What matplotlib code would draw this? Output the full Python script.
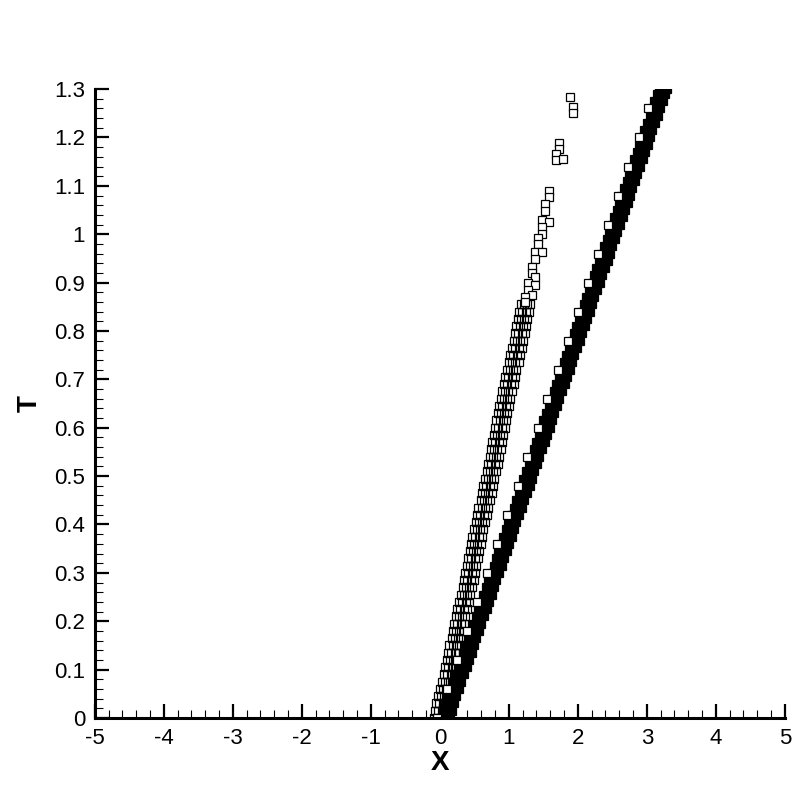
import numpy as np
import matplotlib as mpl
import matplotlib.pyplot as plt
from matplotlib.ticker import MultipleLocator

mpl.rcParams['font.family'] = ['Liberation Sans', 'DejaVu Sans']
mpl.rcParams['axes.unicode_minus'] = False

# right band: time rows and band centre x
right_t = [0.000, 0.015, 0.030, 0.045, 0.060, 0.075, 0.090, 0.105, 0.120, 0.135,
           0.150, 0.165, 0.180, 0.195, 0.210, 0.225, 0.240, 0.255, 0.270, 0.285,
           0.300, 0.315, 0.330, 0.345, 0.360, 0.375, 0.390, 0.405, 0.420, 0.435,
           0.450, 0.465, 0.480, 0.495, 0.510, 0.525, 0.540, 0.555, 0.570, 0.585,
           0.600, 0.615, 0.630, 0.645, 0.660, 0.675, 0.690, 0.705, 0.720, 0.735,
           0.750, 0.765, 0.780, 0.795, 0.810, 0.825, 0.840, 0.855, 0.870, 0.885,
           0.900, 0.915, 0.930, 0.945, 0.960, 0.975, 0.990, 1.005, 1.020, 1.035,
           1.050, 1.065, 1.080, 1.095, 1.110, 1.125, 1.140, 1.155, 1.170, 1.185,
           1.200, 1.215, 1.230, 1.245, 1.260, 1.275, 1.290, 1.300]
right_x = [0.07, 0.11, 0.14, 0.18, 0.22, 0.25, 0.29, 0.33, 0.36, 0.40,
           0.43, 0.47, 0.51, 0.54, 0.58, 0.62, 0.65, 0.69, 0.73, 0.76,
           0.80, 0.84, 0.87, 0.91, 0.94, 0.98, 1.02, 1.05, 1.09, 1.13,
           1.16, 1.20, 1.24, 1.27, 1.31, 1.35, 1.38, 1.42, 1.46, 1.49,
           1.53, 1.56, 1.60, 1.64, 1.67, 1.71, 1.75, 1.78, 1.82, 1.86,
           1.89, 1.93, 1.97, 2.00, 2.04, 2.07, 2.11, 2.15, 2.18, 2.22,
           2.26, 2.29, 2.33, 2.37, 2.40, 2.44, 2.48, 2.51, 2.55, 2.59,
           2.62, 2.66, 2.69, 2.73, 2.77, 2.80, 2.84, 2.88, 2.91, 2.95,
           2.99, 3.02, 3.06, 3.10, 3.13, 3.17, 3.20, 3.23]

# left cloud (dense part): time rows and cloud centre x
left_t = [0.000, 0.015, 0.030, 0.045, 0.060, 0.075, 0.090, 0.105, 0.120, 0.135,
          0.150, 0.165, 0.180, 0.195, 0.210, 0.225, 0.240, 0.255, 0.270, 0.285,
          0.300, 0.315, 0.330, 0.345, 0.360, 0.375, 0.390, 0.405, 0.420, 0.435,
          0.450, 0.465, 0.480, 0.495, 0.510, 0.525, 0.540, 0.555, 0.570, 0.585,
          0.600, 0.615, 0.630, 0.645, 0.660, 0.675, 0.690, 0.705, 0.720, 0.735,
          0.750, 0.765, 0.780, 0.795, 0.810, 0.825, 0.840, 0.855]
left_x = [-0.01, 0.00, 0.02, 0.04, 0.07, 0.10, 0.13, 0.15, 0.17, 0.19,
          0.21, 0.24, 0.26, 0.28, 0.30, 0.32, 0.35, 0.37, 0.40, 0.42,
          0.44, 0.46, 0.48, 0.50, 0.52, 0.54, 0.56, 0.59, 0.61, 0.63,
          0.66, 0.68, 0.70, 0.72, 0.75, 0.77, 0.79, 0.81, 0.83, 0.85,
          0.87, 0.89, 0.91, 0.93, 0.95, 0.97, 1.00, 1.02, 1.04, 1.07,
          1.09, 1.12, 1.14, 1.16, 1.18, 1.20, 1.22, 1.24]

# left cloud (sparse upper part), single points
top_t = [1.283, 1.262, 1.250, 1.188, 1.176, 1.165, 1.153, 1.155, 1.089, 1.076,
         1.062, 1.048, 1.029, 1.025, 1.014, 1.001, 0.992, 0.980, 0.963, 0.963,
         0.948, 0.932, 0.920, 0.911, 0.899, 0.895, 0.884, 0.874, 0.870, 0.860]
top_x = [1.88, 1.93, 1.93, 1.72, 1.72, 1.68, 1.68, 1.78, 1.58, 1.58,
         1.52, 1.52, 1.48, 1.58, 1.48, 1.48, 1.42, 1.42, 1.38, 1.48,
         1.38, 1.33, 1.33, 1.38, 1.28, 1.38, 1.28, 1.33, 1.23, 1.23]

right_t = np.array(right_t)
right_x = np.array(right_x)
left_t = np.array(left_t)
left_x = np.array(left_x)

fig = plt.figure(figsize=(8.1, 8.1), dpi=100, facecolor='w')
ax = fig.add_axes([0.117, 0.1136, 0.852, 0.7764])

ms = 6
hollow = dict(ls='none', marker='s', ms=ms, mfc='white', mec='black', mew=0.9)
hollow_clear = dict(ls='none', marker='s', ms=ms, mfc='none', mec='black', mew=0.9)
filled = dict(ls='none', marker='s', ms=ms, mfc='black', mec='black', mew=0.9)

# left cloud: hollow squares, a few per row
for off in (-0.07, -0.025, 0.025, 0.07):
    ax.plot(left_x + off, left_t, **hollow_clear)
ax.plot(top_x, top_t, **hollow)

# right band: overlapping squares, solid black
for off in (-0.06, 0.0, 0.06):
    ax.plot(right_x + off, right_t, **filled)
ax.plot(right_x[::4] - 0.11, right_t[::4], **hollow)

ax.set_xlim(-5, 5)
ax.set_ylim(0, 1.3)
ax.spines['top'].set_visible(False)
ax.spines['right'].set_visible(False)
ax.spines['left'].set_linewidth(2.2)
ax.spines['bottom'].set_linewidth(2.2)
ax.spines['left'].set_capstyle('projecting')
ax.spines['bottom'].set_capstyle('projecting')

ax.xaxis.set_major_locator(MultipleLocator(1))
ax.xaxis.set_minor_locator(MultipleLocator(0.2))
ax.yaxis.set_minor_locator(MultipleLocator(0.02))
ax.set_yticks(np.round(np.arange(0, 1.31, 0.1), 1))
ax.set_yticklabels(['0', '0.1', '0.2', '0.3', '0.4', '0.5', '0.6', '0.7',
                    '0.8', '0.9', '1', '1.1', '1.2', '1.3'])

ax.tick_params(which='major', direction='in', length=10, width=1.6,
               labelsize=16, pad=7)
ax.tick_params(which='minor', direction='in', length=5.5, width=0.8)
ax.tick_params(axis='x', which='both', top=False)
ax.tick_params(axis='y', which='both', right=False)
ax.tick_params(axis='y', which='major', pad=7)

ax.set_xlabel('X', fontsize=20, fontweight='bold', labelpad=1)
ax.set_ylabel('T', fontsize=20, fontweight='bold', labelpad=8)

plt.savefig('out.png', dpi=100, facecolor='w')
